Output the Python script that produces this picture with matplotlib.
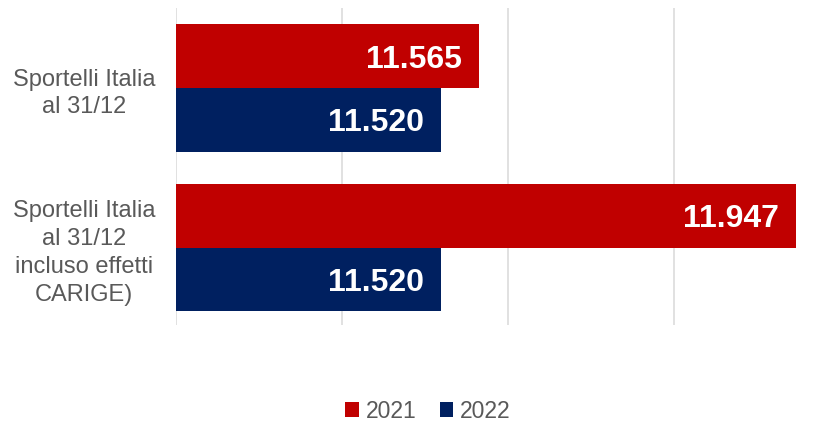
import matplotlib
matplotlib.use("Agg")
import matplotlib.pyplot as plt
import numpy as np

plt.rcParams['font.family'] = ['Liberation Sans', 'DejaVu Sans']

categories = ["Sportelli Italia\nal 31/12", "Sportelli Italia\nal 31/12\nincluso effetti\nCARIGE)"]
series_names = ["2021", "2022"]
values_2021 = [11565, 11947]
values_2022 = [11520, 11520]
labels_2021 = ["11.565", "11.947"]
labels_2022 = ["11.520", "11.520"]
colors = ["#C00000", "#002060"]

W, H = 833, 421
fig = plt.figure(figsize=(W / 100, H / 100), dpi=100)
ax = fig.add_axes([176 / W, (H - 325) / H, (W - 176) / W, (325 - 8) / H])

y = np.arange(len(categories))
bh = 0.4
xmin = 11200
bars1 = ax.barh(y - 0.2, np.array(values_2021) - xmin, left=xmin, height=bh, color=colors[0], label=series_names[0], zorder=3)
bars2 = ax.barh(y + 0.2, np.array(values_2022) - xmin, left=xmin, height=bh, color=colors[1], label=series_names[1], zorder=3)

for bars, labs in ((bars1, labels_2021), (bars2, labels_2022)):
    for b, lab in zip(bars, labs):
        ax.annotate(lab, xy=(b.get_x() + b.get_width(), b.get_y() + b.get_height() / 2),
                    xytext=(-17, 0), textcoords='offset pixels', ha='right', va='center_baseline',
                    color='white', fontsize=23, fontweight='bold', zorder=4)

ax.set_xlim(11200, 11992)
ax.set_ylim(1.486, -0.502)
ax.set_xticks([11200, 11400, 11600, 11800])
ax.xaxis.grid(True, color='#D9D9D9', linewidth=1.1, zorder=0)
ax.tick_params(axis='x', length=0, labelbottom=False)
ax.tick_params(axis='y', length=0, pad=15)
ax.set_yticks(y)
ax.set_yticklabels(categories, fontsize=17, color='#595959', multialignment='center', linespacing=1.35)
for s in ax.spines.values():
    s.set_visible(False)

leg = fig.legend(loc='center', bbox_to_anchor=(428 / W, (H - 411) / H), bbox_transform=fig.transFigure,
                 ncol=2, frameon=False, fontsize=16.5, handlelength=0.6, handleheight=0.6,
                 handletextpad=0.3, columnspacing=1.0, labelcolor='#595959')

fig.savefig("out.png", dpi=100)
